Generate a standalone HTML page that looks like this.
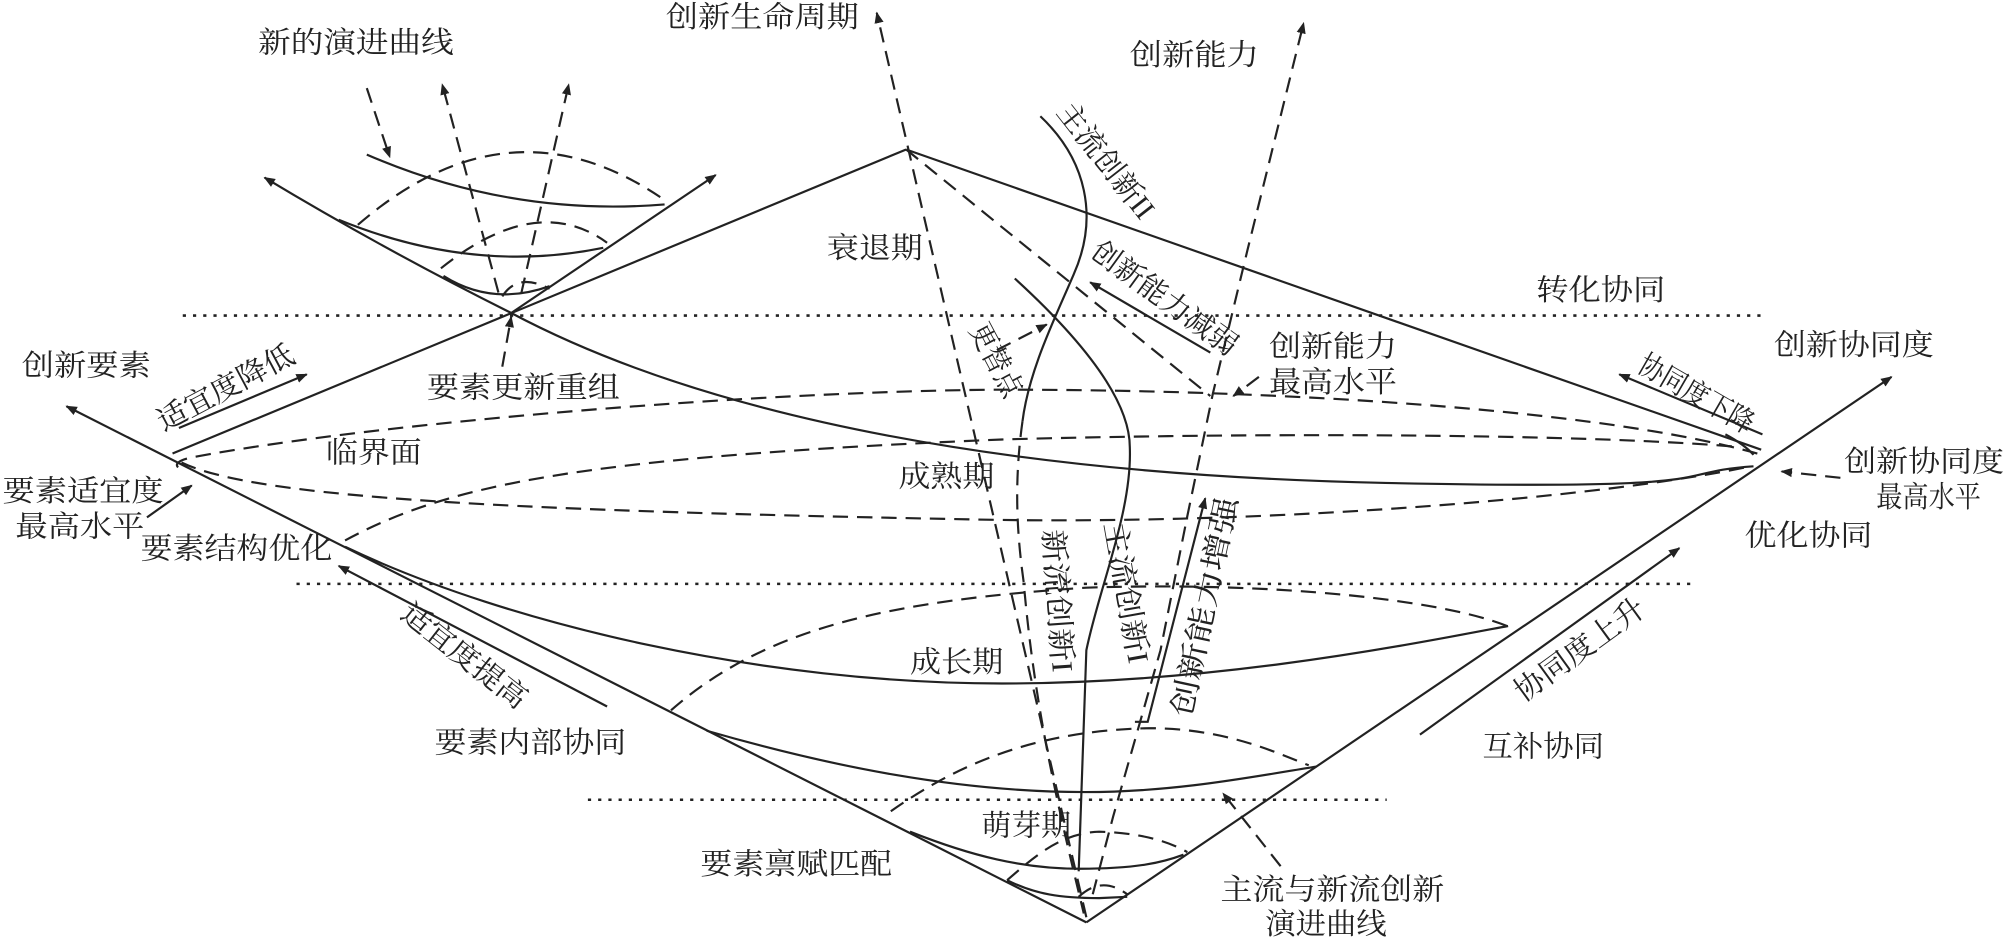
<!DOCTYPE html>
<html><head><meta charset="utf-8"><style>
html,body{margin:0;padding:0;background:#fff;}
svg{display:block;}
text{font-family:"Liberation Serif","Noto Serif CJK SC",serif;font-size:23px;fill:#222;}
</style></head><body>
<svg width="2004" height="939" viewBox="0 0 1568 735" preserveAspectRatio="none" xmlns="http://www.w3.org/2000/svg">
<defs>
<marker id="a" viewBox="0 0 10 10" refX="9" refY="5" markerWidth="9" markerHeight="9" markerUnits="userSpaceOnUse" orient="auto"><path d="M0,1 L10,5 L0,9 z" fill="#222"/></marker>
</defs>
<g fill="none" stroke="#222" stroke-width="1.7">
<g stroke-dasharray="2.5 5.5" stroke-width="2">
<path d="M143,247 L1380,247"/>
<path d="M232,457 L1328,457"/>
<path d="M460,626 L1085,626"/>
</g>
<path d="M850,722 L52,318" marker-end="url(#a)"/>
<path d="M850,722 L1480,295" marker-end="url(#a)"/>
<path d="M135,355 L709,117"/>
<path d="M709,117 L1378,352"/>
<path d="M400,245 Q300,195 207,139" marker-end="url(#a)"/>
<path d="M400,245 C560,330 800,372 1084,378 S1300,370 1372,365"/>
<path d="M400,245 L560,137" marker-end="url(#a)"/>
<path d="M287,121 Q400,170 520,160"/>
<path d="M265,172 Q370,215 472,194"/>
<path d="M347,216 Q385,240 430,224"/>
<path d="M814,91 C850,125 860,170 840,215 C825,250 805,290 800,330"/>
<path d="M794,218 C840,260 884,310 884,350 C886,400 860,460 850,509 L844,682"/>
<path d="M270,428 C400,490 600,535 784,535 C950,535 1100,505 1180,490"/>
<path d="M553,572 C650,600 750,620 849,620 C920,620 980,608 1030,600"/>
<path d="M712,651 C760,670 800,680 845,680 C890,680 910,675 926,669"/>
<path d="M788,689 C810,700 830,703 860,703 L882,702"/>
<path d="M1350,340 Q1365,348 1372,356"/>
<path d="M140,335 L240,293" marker-end="url(#a)"/>
<path d="M115,405 L150,380" marker-end="url(#a)"/>
<path d="M475,553 L265,443" marker-end="url(#a)"/>
<path d="M1379,340 L1267,293" marker-end="url(#a)"/>
<path d="M1111,575 L1314,429" marker-end="url(#a)"/>
<path d="M888,565 L898,565 L943,390" marker-end="url(#a)"/>
<path d="M947,276 L853,221" marker-end="url(#a)"/>
<g stroke-dasharray="12 7">
<path d="M850,718 L686,10" marker-end="url(#a)"/>
<path d="M855,700 L871,639 L908,509 L929,404 L949,308 L976,196 L1020,18" marker-end="url(#a)"/>
<path d="M709,117 L947,310"/>
<path d="M800,330 C793,380 796,420 801,456 C810,560 830,640 848,715"/>
<path d="M1375,355 C1250,320 1000,305 784,305 C600,306 300,330 150,358 Q132,362 142,368"/>
<path d="M142,362 C200,390 400,400 784,407 C1000,410 1250,390 1370,365"/>
<path d="M270,423 C350,380 450,358 784,344 C1000,338 1250,340 1362,350"/>
<path d="M525,556 C600,490 700,470 850,460 C1000,455 1130,470 1179,490"/>
<path d="M697,635 C740,605 800,572 899,570 C960,570 1000,590 1024,599"/>
<path d="M788,689 C810,670 830,652 860,651 C900,652 920,662 929,667"/>
<path d="M844,702 Q862,685 882,700"/>
<path d="M280,176 Q400,72 522,158"/>
<path d="M345,210 Q420,150 475,190"/>
<path d="M393,232 Q405,213 430,226"/>
<path d="M287,69 L305,123" marker-end="url(#a)"/>
<path d="M390,229 L346,66" marker-end="url(#a)"/>
<path d="M408,229 L445,66" marker-end="url(#a)"/>
<path d="M393,287 L400,248" marker-end="url(#a)"/>
<path d="M1440,374 L1394,369" marker-end="url(#a)"/>
<path d="M780,274 L819,254" marker-end="url(#a)"/>
<path d="M985,295 L965,310" marker-end="url(#a)"/>
<path d="M1002,678 L957,621" marker-end="url(#a)"/>
</g>
</g>
<g>
<text x="521" y="21" textLength="151" lengthAdjust="spacingAndGlyphs">创新生命周期</text>
<text x="202" y="41" textLength="153" lengthAdjust="spacingAndGlyphs">新的演进曲线</text>
<text x="884" y="51" textLength="101" lengthAdjust="spacingAndGlyphs">创新能力</text>
<text x="647" y="202" textLength="75" lengthAdjust="spacingAndGlyphs">衰退期</text>
<text x="1202" y="235" textLength="101" lengthAdjust="spacingAndGlyphs">转化协同</text>
<text x="993" y="279" textLength="100" lengthAdjust="spacingAndGlyphs">创新能力</text>
<text x="993" y="307" textLength="100" lengthAdjust="spacingAndGlyphs">最高水平</text>
<text x="1388" y="278" textLength="125" lengthAdjust="spacingAndGlyphs">创新协同度</text>
<text x="17" y="294" textLength="101" lengthAdjust="spacingAndGlyphs">创新要素</text>
<text x="334" y="311" textLength="151" lengthAdjust="spacingAndGlyphs">要素更新重组</text>
<text x="255" y="362" textLength="75" lengthAdjust="spacingAndGlyphs">临界面</text>
<text x="2" y="392" textLength="126" lengthAdjust="spacingAndGlyphs">要素适宜度</text>
<text x="12" y="420" textLength="101" lengthAdjust="spacingAndGlyphs">最高水平</text>
<text x="703" y="381" textLength="75" lengthAdjust="spacingAndGlyphs">成熟期</text>
<text x="1443" y="369" textLength="125" lengthAdjust="spacingAndGlyphs">创新协同度</text>
<text x="1468" y="397" textLength="82" lengthAdjust="spacingAndGlyphs">最高水平</text>
<text x="110" y="437" textLength="150" lengthAdjust="spacingAndGlyphs">要素结构优化</text>
<text x="1365" y="427" textLength="100" lengthAdjust="spacingAndGlyphs">优化协同</text>
<text x="712" y="526" textLength="73" lengthAdjust="spacingAndGlyphs">成长期</text>
<text x="340" y="589" textLength="150" lengthAdjust="spacingAndGlyphs">要素内部协同</text>
<text x="1160" y="592" textLength="95" lengthAdjust="spacingAndGlyphs">互补协同</text>
<text x="768" y="654" textLength="70" lengthAdjust="spacingAndGlyphs">萌芽期</text>
<text x="548" y="684" textLength="150" lengthAdjust="spacingAndGlyphs">要素禀赋匹配</text>
<text x="955" y="704" textLength="175" lengthAdjust="spacingAndGlyphs">主流与新流创新</text>
<text x="990" y="731" textLength="95" lengthAdjust="spacingAndGlyphs">演进曲线</text>
<text transform="translate(826,88) rotate(52)" textLength="108" lengthAdjust="spacingAndGlyphs">主流创新II</text>
<text transform="translate(852,200) rotate(36)" textLength="135" lengthAdjust="spacingAndGlyphs">创新能力减弱</text>
<text transform="translate(758,258) rotate(62)" textLength="62" lengthAdjust="spacingAndGlyphs">更替点</text>
<text transform="translate(1280,290) rotate(30)" textLength="100" lengthAdjust="spacingAndGlyphs">协同度下降</text>
<text transform="translate(128,338) rotate(-28)" textLength="118" lengthAdjust="spacingAndGlyphs">适宜度降低</text>
<text transform="translate(312,483) rotate(38)" textLength="118" lengthAdjust="spacingAndGlyphs">适宜度提高</text>
<text transform="translate(1192,550) rotate(-36)" textLength="120" lengthAdjust="spacingAndGlyphs">协同度上升</text>
<text transform="translate(816,415) rotate(86)" textLength="112" lengthAdjust="spacingAndGlyphs">新流创新I</text>
<text transform="translate(864,410) rotate(80)" textLength="112" lengthAdjust="spacingAndGlyphs">主流创新I</text>
<text transform="translate(932,562) rotate(-78)" textLength="175" lengthAdjust="spacingAndGlyphs">创新能力增强</text>
</g>
</svg>
</body></html>
